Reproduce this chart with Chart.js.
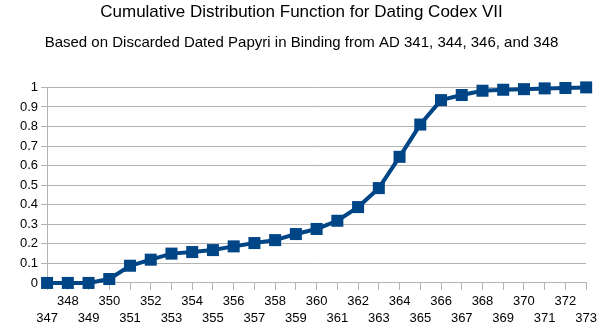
<!DOCTYPE html>
<html>
<head>
<meta charset="utf-8">
<script src="https://cdn.jsdelivr.net/npm/chart.js@4"></script>
<style>
  html, body { margin: 0; padding: 0; background: #fff; }
  #wrap { width: 600px; height: 330px; }
</style>
</head>
<body>
<div id="wrap"><canvas id="cdf"></canvas></div>
<script>
// Years (x categories) and the cumulative probability at each
const years = [347, 348, 349, 350, 351, 352, 353, 354, 355, 356, 357, 358, 359, 360,
  361, 362, 363, 364, 365, 366, 367, 368, 369, 370, 371, 372, 373]
const cdfValues = [0, 0, 0, 0.02, 0.088, 0.119, 0.15, 0.158, 0.168, 0.187, 0.204, 0.219, 0.25, 0.276,
  0.318, 0.388, 0.485, 0.645, 0.81, 0.935, 0.961, 0.983, 0.988, 0.991, 0.995, 0.997, 1.0]
const yTicks = [0, 0.1, 0.2, 0.3, 0.4, 0.5, 0.6, 0.7, 0.8, 0.9, 1]

Chart.defaults.font.family = "'Liberation Sans', Arial, sans-serif"
Chart.defaults.color = "#000"

const chart = new Chart(document.getElementById("cdf"), {
  type: "line",
  data: {
    labels: years.map(String),
    datasets: [
      {
        data: cdfValues,
        borderColor: "#004586",
        backgroundColor: "#004586",
        borderWidth: 4,
        pointStyle: "rect",
        pointRadius: 8.5,
        pointBorderWidth: 0,
        tension: 0,
        clip: false,
      },
    ],
  },
  options: {
    responsive: true,
    maintainAspectRatio: false,
    animation: false,
    layout: { padding: { left: 9, right: 6, top: 0, bottom: 0 } },
    plugins: {
      legend: { display: false },
      tooltip: { enabled: false },
      title: {
        display: true,
        text: "Cumulative Distribution Function for Dating Codex VII",
        font: { size: 17, weight: "normal" },
        color: "#000",
        padding: { top: 2, bottom: 5 },
      },
      subtitle: {
        display: true,
        text: "Based on Discarded Dated Papyri in Binding from AD 341, 344, 346, and 348",
        font: { size: 15, weight: "normal" },
        color: "#000",
        padding: { top: 6, bottom: 36 },
      },
    },
    scales: {
      x: {
        offset: false,
        grid: {
          drawOnChartArea: false,
          color: "#b3b3b3",
          tickLength: 7,
        },
        border: { color: "#b3b3b3" },
        ticks: {
          autoSkip: false,
          maxRotation: 0,
          padding: 3,
          font: { size: 13, lineHeight: 1.31 },
          // stagger the labels: even years on the first row, odd on the second
          callback: function (value, index) {
            const y = years[index]
            return y % 2 === 0 ? String(y) : ["", String(y)]
          },
        },
      },
      y: {
        min: 0,
        max: 1,
        afterBuildTicks: (axis) => {
          axis.ticks = yTicks.map((v) => ({ value: v }))
        },
        afterFit: (axis) => {
          axis.width += 8
        },
        grid: { color: "#b3b3b3", tickLength: 6 },
        border: { color: "#b3b3b3" },
        ticks: {
          padding: 3,
          font: { size: 13 },
          callback: (v) => String(Math.round(v * 10) / 10),
        },
      },
    },
  },
})
</script>
</body>
</html>
